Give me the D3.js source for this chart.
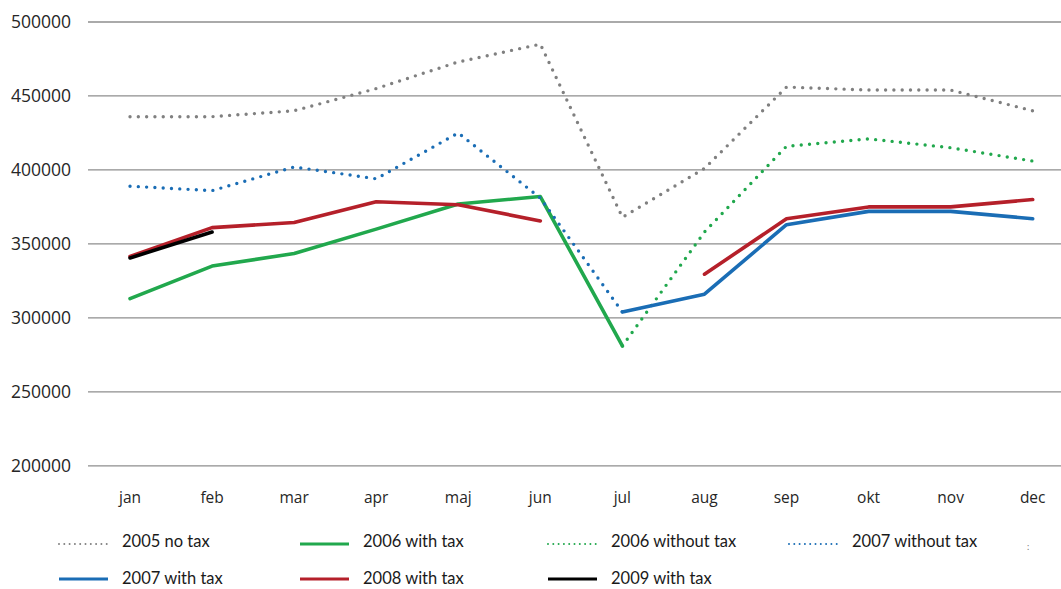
<!DOCTYPE html>
<html>
<head>
<meta charset="utf-8">
<script src="https://cdn.jsdelivr.net/npm/d3@7"></script>
<style>
  body { margin: 0; background: #fff; }
  svg { display: block; }
</style>
</head>
<body>
<svg id="chart"></svg>
<script>
const WIDTH = 1061,
HEIGHT = 589;

// datos
const months = ["jan", "feb", "mar", "apr", "maj", "jun", "jul", "aug", "sep", "okt", "nov", "dec"];
const yTicks = [200000, 250000, 300000, 350000, 400000, 450000, 500000];

const s2005NoTax      = [436000, 436000, 440000, 455000, 473000, 485000, 368000, 401000, 456000, 454000, 454000, 440000];
const s2006WithTax    = [313000, 335000, 343500, 360000, 377000, 382000, 281000, null, null, null, null, null];
const s2006WithoutTax = [null, null, null, null, null, null, 281000, 358000, 416000, 421000, 415000, 406000];
const s2007WithoutTax = [389000, 386000, 402000, 394000, 425000, 381000, 304000, null, null, null, null, null];
const s2007WithTax    = [null, null, null, null, null, null, 304000, 316000, 363000, 372000, 372000, 367000];
const s2008WithTax    = [341500, 361000, 364500, 378500, 376500, 365500, null, 329500, 367000, 375000, 375000, 380000];
const s2009WithTax    = [340500, 358000, null, null, null, null, null, null, null, null, null, null];

const seriesNames  = ["2005 no tax", "2006 with tax", "2006 without tax", "2007 without tax", "2007 with tax", "2008 with tax", "2009 with tax"];
const seriesValues = [s2005NoTax, s2006WithTax, s2006WithoutTax, s2007WithoutTax, s2007WithTax, s2008WithTax, s2009WithTax];
const seriesColors = ["#808080", "#21a84d", "#21a84d", "#1a6db5", "#1a6db5", "#b5202a", "#000000"];
const seriesDotted = [true, false, true, true, false, false, false];

const svg = d3.select("svg#chart")
                .attr("width", WIDTH)
                .attr("height", HEIGHT);

const x = d3.scaleBand()
            .domain(months)
            .range([89, 89 + 12 * 82.06])
            .padding(0);

const y = d3.scaleLinear()
            .domain([200000, 500000])
            .range([465.8, 22]);

const cx = (m) => x(m) + x.bandwidth() / 2;

// líneas de la grilla
const grid = svg.append("g").attr("id", "grid");
grid.selectAll("line")
    .data(yTicks)
    .join("line")
        .attr("x1", 88)
        .attr("x2", WIDTH)
        .attr("y1", (d) => y(d))
        .attr("y2", (d) => y(d))
        .attr("stroke", "#8e8e8e")
        .attr("stroke-width", 1.3);

// etiquetas eje y
svg.append("g").attr("id", "y-labels")
    .selectAll("text")
    .data(yTicks)
    .join("text")
        .attr("x", 71)
        .attr("y", (d) => y(d))
        .attr("dy", "0.36em")
        .attr("text-anchor", "end")
        .attr("font-family", "Open Sans, sans-serif")
        .attr("font-size", 17.5)
        .attr("fill", "#262626")
        .text((d) => d);

// etiquetas eje x
svg.append("g").attr("id", "x-labels")
    .selectAll("text")
    .data(months)
    .join("text")
        .attr("x", (d) => cx(d))
        .attr("y", 503)
        .attr("text-anchor", "middle")
        .attr("font-family", "Open Sans, sans-serif")
        .attr("font-size", 15.5)
        .attr("fill", "#262626")
        .text((d) => d);

// series
const line = d3.line()
                .defined((d) => d.v !== null)
                .x((d) => cx(d.m))
                .y((d) => y(d.v));

const lines = svg.append("g").attr("id", "series");
seriesValues.forEach((vals, i) => {
    const pts = vals.map((v, j) => ({ m: months[j], v: v }));
    lines.append("path")
        .datum(pts)
        .attr("d", line)
        .attr("fill", "none")
        .attr("stroke", seriesColors[i])
        .attr("stroke-width", seriesDotted[i] ? 3.4 : 3.6)
        .attr("stroke-linecap", "round")
        .attr("stroke-linejoin", "round")
        .attr("stroke-dasharray", seriesDotted[i] ? "0,8.3" : null);
});

// leyenda
const legendCols = [59, 300, 548, 789];
const legendRows = [544, 579];
const legendTextDy = [3, 5];
const legend = svg.append("g").attr("id", "legend");
seriesNames.forEach((name, i) => {
    const r = Math.floor(i / 4);
    const lx = legendCols[i % 4];
    const ly = legendRows[r];
    const g = legend.append("g").attr("transform", `translate(${lx}, ${ly})`);
    g.append("line")
        .attr("x1", 0)
        .attr("x2", 49)
        .attr("stroke", seriesColors[i])
        .attr("stroke-width", seriesDotted[i] ? 2 : 3)
        .attr("stroke-linecap", seriesDotted[i] ? "round" : "butt")
        .attr("stroke-dasharray", seriesDotted[i] ? "0,5.3" : null);
    g.append("text")
        .attr("x", 63)
        .attr("y", legendTextDy[r])
        .attr("font-family", "Lato, sans-serif")
        .attr("font-size", 16.5)
        .attr("fill", "#1a1a1a")
        .text(name);
});

legend.append("text")
    .attr("x", 1028)
    .attr("y", 550)
    .attr("text-anchor", "middle")
    .attr("font-family", "Lato, sans-serif")
    .attr("font-size", 9)
    .attr("fill", "#777")
    .text(":");
</script>
</body>
</html>
